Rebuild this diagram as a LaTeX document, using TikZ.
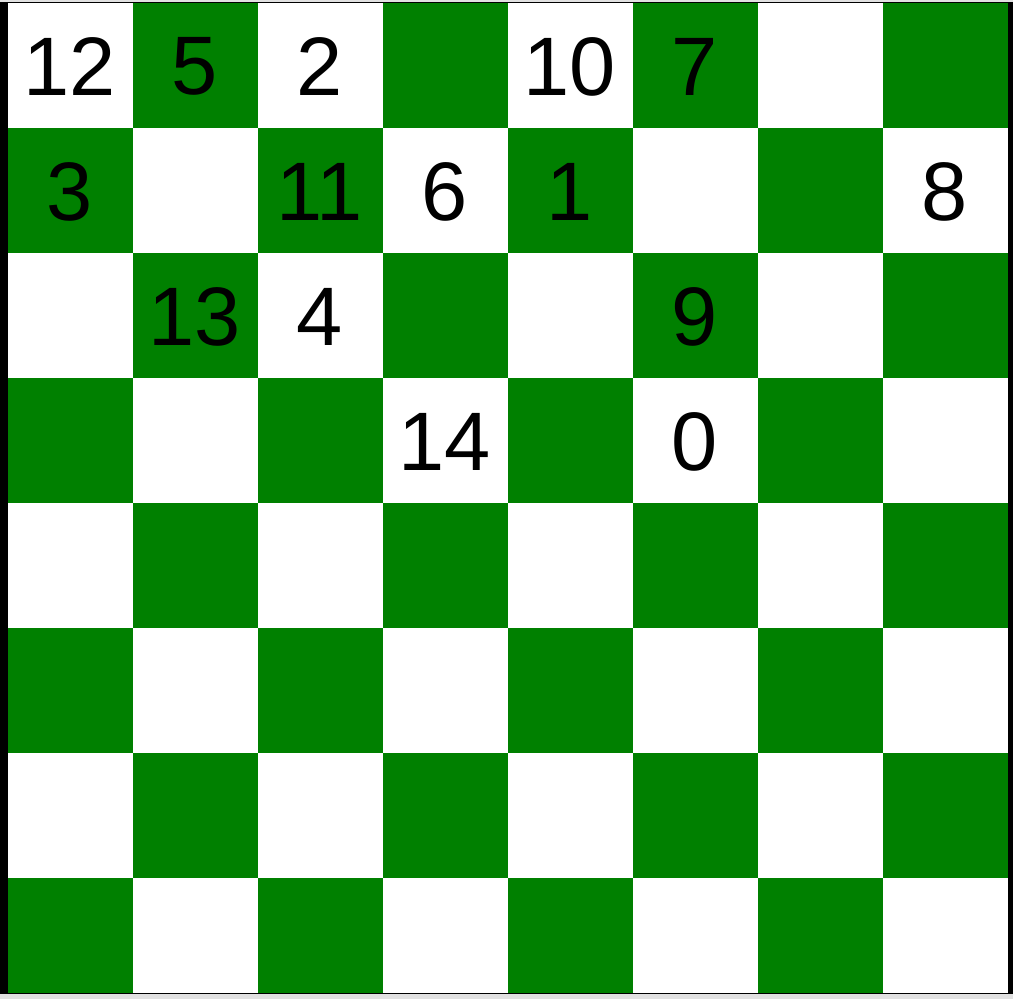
\documentclass[tikz,border=0pt]{standalone}
\usepackage{fontspec}
\setmainfont{Liberation Sans}
\definecolor{boardgreen}{RGB}{0,128,0}
\definecolor{framegrey}{RGB}{225,225,225}
\begin{document}
\begin{tikzpicture}[x=1pt,y=-1pt,
  num/.style={inner sep=0pt,outer sep=0pt,font=\fontsize{83}{83}\selectfont,text=black}]
\useasboundingbox (0,0) rectangle (1013,999);
\fill[framegrey] (0,0) rectangle (1013,999);
\fill[black] (0,1.5) rectangle (1013,994);
\begin{scope}
\clip (7.5,3.5) rectangle (1008,992.5);
\fill[white] (7.5,2.5) rectangle (1008,1002.5);
\foreach \r in {0,...,7}{\foreach \c in {0,...,7}{
  \pgfmathtruncatemacro\parity{mod(\r+\c,2)}
  \ifnum\parity=1 \fill[boardgreen] ({7.5+125*\c},{2.5+125*\r}) rectangle ++(125,125);\fi
}}
\end{scope}
% row 0
\node[num] (n12) at (70,66.5) {12};
\node[num] (n5)  at (195,66.5) {5};
\node[num] (n2)  at (320,66.5) {2};
\node[num] (n10) at (570,66.5) {10};
\node[num] (n7)  at (695,66.5) {7};
% row 1
\node[num] (n3)  at (70,191.5) {3};
\node[num] (n11) at (320,191.5) {11};
\node[num] (n6)  at (445,191.5) {6};
\node[num] (n1)  at (570,191.5) {1};
\node[num] (n8)  at (945,191.5) {8};
% row 2
\node[num] (n13) at (195,316.5) {13};
\node[num] (n4)  at (320,316.5) {4};
\node[num] (n9)  at (695,316.5) {9};
% row 3
\node[num] (n14) at (445,441.5) {14};
\node[num] (n0)  at (695,441.5) {0};
\end{tikzpicture}
\end{document}
